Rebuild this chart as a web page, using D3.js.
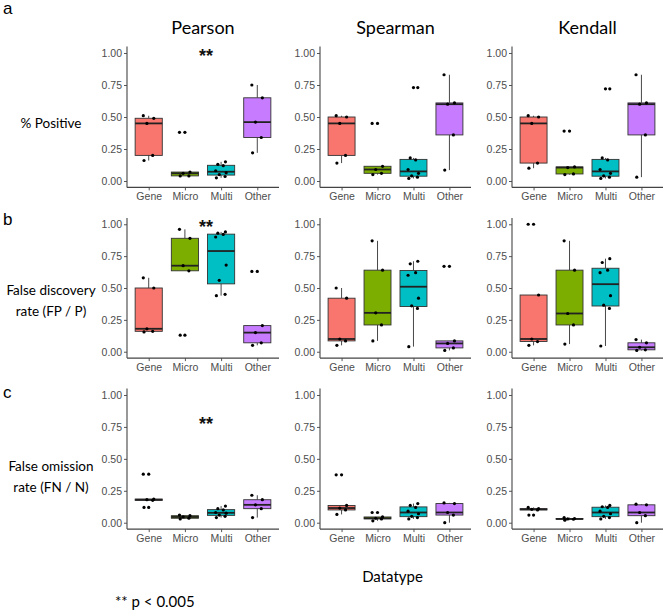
<!DOCTYPE html>
<html>
<head>
<meta charset="utf-8">
<script src="https://cdn.jsdelivr.net/npm/d3@7"></script>
<style>
  html, body { margin: 0; padding: 0; background: #fff; }
  svg { display: block; }
</style>
</head>
<body>
<svg id="chart" width="666" height="613"></svg>
<script>
// ---------------- DATA ----------------
const categories = ["Gene", "Micro", "Multi", "Other"];
const methods = ["Pearson", "Spearman", "Kendall"];
const rowLetters = ["a", "b", "c"];
const rowLabels = [["% Positive"], ["False discovery", "rate (FP / P)"], ["False omission", "rate (FN / N)"]];
const yTicks = [0, 0.25, 0.5, 0.75, 1];
const yTickLabels = ["0.00", "0.25", "0.50", "0.75", "1.00"];
const xTitle = "Datatype";
const footnote = "** p < 0.005";

// values per category: Gene, Micro, Multi, Other
const pearsonPositive = [
  [0.16, 0.20, 0.45, 0.49, 0.51],
  [0.04, 0.04, 0.06, 0.07, 0.38],
  [0.025, 0.035, 0.05, 0.065, 0.08, 0.12, 0.13, 0.15],
  [0.22, 0.34, 0.46, 0.65, 0.75]
];
const spearmanPositive = [
  [0.14, 0.20, 0.45, 0.50, 0.51],
  [0.05, 0.06, 0.09, 0.115, 0.45],
  [0.02, 0.03, 0.04, 0.06, 0.09, 0.165, 0.18, 0.73],
  [0.085, 0.36, 0.60, 0.61, 0.83]
];
const kendallPositive = [
  [0.10, 0.14, 0.45, 0.50, 0.51],
  [0.05, 0.055, 0.105, 0.11, 0.39],
  [0.02, 0.03, 0.04, 0.06, 0.09, 0.165, 0.18, 0.72],
  [0.03, 0.36, 0.60, 0.61, 0.83]
];
const pearsonFDR = [
  [0.155, 0.16, 0.18, 0.50, 0.58],
  [0.13, 0.635, 0.675, 0.89, 0.96],
  [0.44, 0.45, 0.56, 0.68, 0.90, 0.92, 0.93, 0.94],
  [0.05, 0.07, 0.15, 0.205, 0.63]
];
const spearmanFDR = [
  [0.05, 0.085, 0.10, 0.42, 0.50],
  [0.085, 0.21, 0.305, 0.64, 0.87],
  [0.04, 0.34, 0.36, 0.42, 0.60, 0.62, 0.69, 0.71],
  [0.01, 0.03, 0.065, 0.085, 0.67]
];
const kendallFDR = [
  [0.05, 0.08, 0.10, 0.445, 1.0],
  [0.06, 0.21, 0.30, 0.64, 0.87],
  [0.045, 0.34, 0.365, 0.44, 0.62, 0.64, 0.70, 0.73],
  [0.01, 0.015, 0.035, 0.07, 0.095]
];
const pearsonFOR = [
  [0.12, 0.175, 0.18, 0.185, 0.38],
  [0.03, 0.035, 0.045, 0.055, 0.06],
  [0.04, 0.05, 0.06, 0.075, 0.08, 0.10, 0.11, 0.13],
  [0.04, 0.11, 0.14, 0.18, 0.215]
];
const spearmanFOR = [
  [0.065, 0.10, 0.115, 0.135, 0.375],
  [0.015, 0.03, 0.035, 0.045, 0.08],
  [0.03, 0.04, 0.05, 0.07, 0.09, 0.12, 0.135, 0.15],
  [0.0, 0.06, 0.08, 0.15, 0.155]
];
const kendallFOR = [
  [0.06, 0.10, 0.105, 0.11, 0.12],
  [0.02, 0.027, 0.03, 0.033, 0.04],
  [0.03, 0.04, 0.05, 0.07, 0.09, 0.12, 0.125, 0.135],
  [0.0, 0.055, 0.08, 0.14, 0.145]
];

// significance markers: row, column, value (y) , between categories
const sigRows = [0, 1, 2];
const sigCols = [0, 0, 0];
const sigValues = [1.0, 1.0, 0.80];

const panelData = [
  [pearsonPositive, spearmanPositive, kendallPositive],
  [pearsonFDR, spearmanFDR, kendallFDR],
  [pearsonFOR, spearmanFOR, kendallFOR]
];

// ---------------- STYLE / LAYOUT ----------------
const fillColors = ["#F8766D", "#7CAE00", "#00BFC4", "#C77CFF"];
const panelX = [[127, 279], [320, 471], [512, 663]];
const panelY = [[46.6, 187.4], [217.9, 358.1], [388.6, 529.1]];
const jitterPattern = [-0.13, 0.11, -0.05, 0.14, -0.15, 0.06, -0.09, 0.12];

const svg = d3.select("#chart");
const calibri = "Lato, 'Open Sans', sans-serif";
const arial = "'Liberation Sans', Arial, sans-serif";

function boxStats(vals) {
  const s = vals.slice().sort(d3.ascending);
  const q1 = d3.quantileSorted(s, 0.25), med = d3.quantileSorted(s, 0.5), q3 = d3.quantileSorted(s, 0.75);
  const iqr = q3 - q1;
  const lo = q1 - 1.5 * iqr, hi = q3 + 1.5 * iqr;
  const inside = s.filter(v => v >= lo && v <= hi);
  return { q1, med, q3, wlo: d3.min(inside), whi: d3.max(inside), outliers: s.filter(v => v < lo || v > hi), sorted: s };
}

// titles
methods.forEach((m, j) => {
  svg.append("text")
    .attr("x", (panelX[j][0] + panelX[j][1]) / 2)
    .attr("y", 34)
    .attr("text-anchor", "middle")
    .attr("font-family", calibri)
    .attr("font-size", 18)
    .attr("fill", "#000")
    .text(m);
});

rowLetters.forEach((l, i) => {
  svg.append("text")
    .attr("x", 3).attr("y", [14, 225, 398][i])
    .attr("font-family", arial).attr("font-size", 17).attr("fill", "#000")
    .text(l);
  const lines = rowLabels[i];
  const cy = [123, 300.5, 477][i];
  const lh = 21;
  lines.forEach((t, k) => {
    svg.append("text")
      .attr("x", 51)
      .attr("y", cy + (k - (lines.length - 1) / 2) * lh + 4.5)
      .attr("text-anchor", "middle")
      .attr("font-family", calibri).attr("font-size", 13.5).attr("fill", "#000")
      .text(t);
  });
});

panelData.forEach((row, i) => {
  row.forEach((groups, j) => {
    const x = d3.scalePoint().domain(categories).range(panelX[j]).padding(0.6);
    const y = d3.scaleLinear().domain([-0.05, 1.05]).range([panelY[i][1], panelY[i][0]]);
    const step = x.step();
    const bw = step * 0.75;
    const g = svg.append("g");

    // axes
    const yAxis = d3.axisLeft(y).tickValues(yTicks).tickFormat((d, k) => yTickLabels[k]).tickSize(3).tickPadding(2);
    const ya = g.append("g").attr("transform", `translate(${panelX[j][0]},0)`).call(yAxis);
    const xAxis = d3.axisBottom(x).tickSize(3).tickPadding(2);
    const xa = g.append("g").attr("transform", `translate(0,${panelY[i][1]})`).call(xAxis);
    [ya, xa].forEach(a => {
      a.select(".domain").attr("stroke", "#444").attr("stroke-width", 1.1);
      a.selectAll(".tick line").attr("stroke", "#444").attr("stroke-width", 0.9);
      a.selectAll(".tick text").attr("fill", "#4D4D4D").attr("font-family", arial).attr("font-size", 10.5);
    });
    ya.select(".domain").attr("d", `M0,${panelY[i][0]}V${panelY[i][1]}`);
    xa.select(".domain").attr("d", `M${panelX[j][0]},0H${panelX[j][1]}`);

    groups.forEach((vals, c) => {
      const st = boxStats(vals);
      const cx = x(categories[c]);
      // whiskers
      g.append("line").attr("x1", cx).attr("x2", cx).attr("y1", y(st.q3)).attr("y2", y(st.whi))
        .attr("stroke", "#333").attr("stroke-width", 0.9);
      g.append("line").attr("x1", cx).attr("x2", cx).attr("y1", y(st.q1)).attr("y2", y(st.wlo))
        .attr("stroke", "#333").attr("stroke-width", 0.9);
      // box
      g.append("rect").attr("x", cx - bw / 2).attr("width", bw)
        .attr("y", y(st.q3)).attr("height", Math.max(0.5, y(st.q1) - y(st.q3)))
        .attr("fill", fillColors[c]).attr("stroke", "#333").attr("stroke-width", 0.9);
      g.append("line").attr("x1", cx - bw / 2).attr("x2", cx + bw / 2).attr("y1", y(st.med)).attr("y2", y(st.med))
        .attr("stroke", "#222").attr("stroke-width", 1.8);
      // outliers at centre
      st.outliers.forEach(v => {
        g.append("circle").attr("cx", cx).attr("cy", y(v)).attr("r", 1.6).attr("fill", "#000");
      });
      // jittered points
      st.sorted.forEach((v, k) => {
        g.append("circle").attr("cx", cx + jitterPattern[k % jitterPattern.length] * step)
          .attr("cy", y(v)).attr("r", 1.6).attr("fill", "#000");
      });
    });
  });
});

// significance stars
sigRows.forEach((r, k) => {
  const c = sigCols[k];
  const x = d3.scalePoint().domain(categories).range(panelX[c]).padding(0.6);
  const y = d3.scaleLinear().domain([-0.05, 1.05]).range([panelY[r][1], panelY[r][0]]);
  svg.append("text")
    .attr("x", (x("Micro") + x("Multi")) / 2 + 3)
    .attr("y", y(sigValues[k]) + 9)
    .attr("text-anchor", "middle")
    .attr("font-family", arial).attr("font-size", 18).attr("font-weight", "bold").attr("fill", "#111")
    .text("**");
});

svg.append("text").attr("x", 392.5).attr("y", 582).attr("text-anchor", "middle")
  .attr("font-family", calibri).attr("font-size", 15).attr("fill", "#000").text(xTitle);
svg.append("text").attr("x", 115).attr("y", 607)
  .attr("font-family", calibri).attr("font-size", 15).attr("fill", "#000").text(footnote);
</script>
</body>
</html>
